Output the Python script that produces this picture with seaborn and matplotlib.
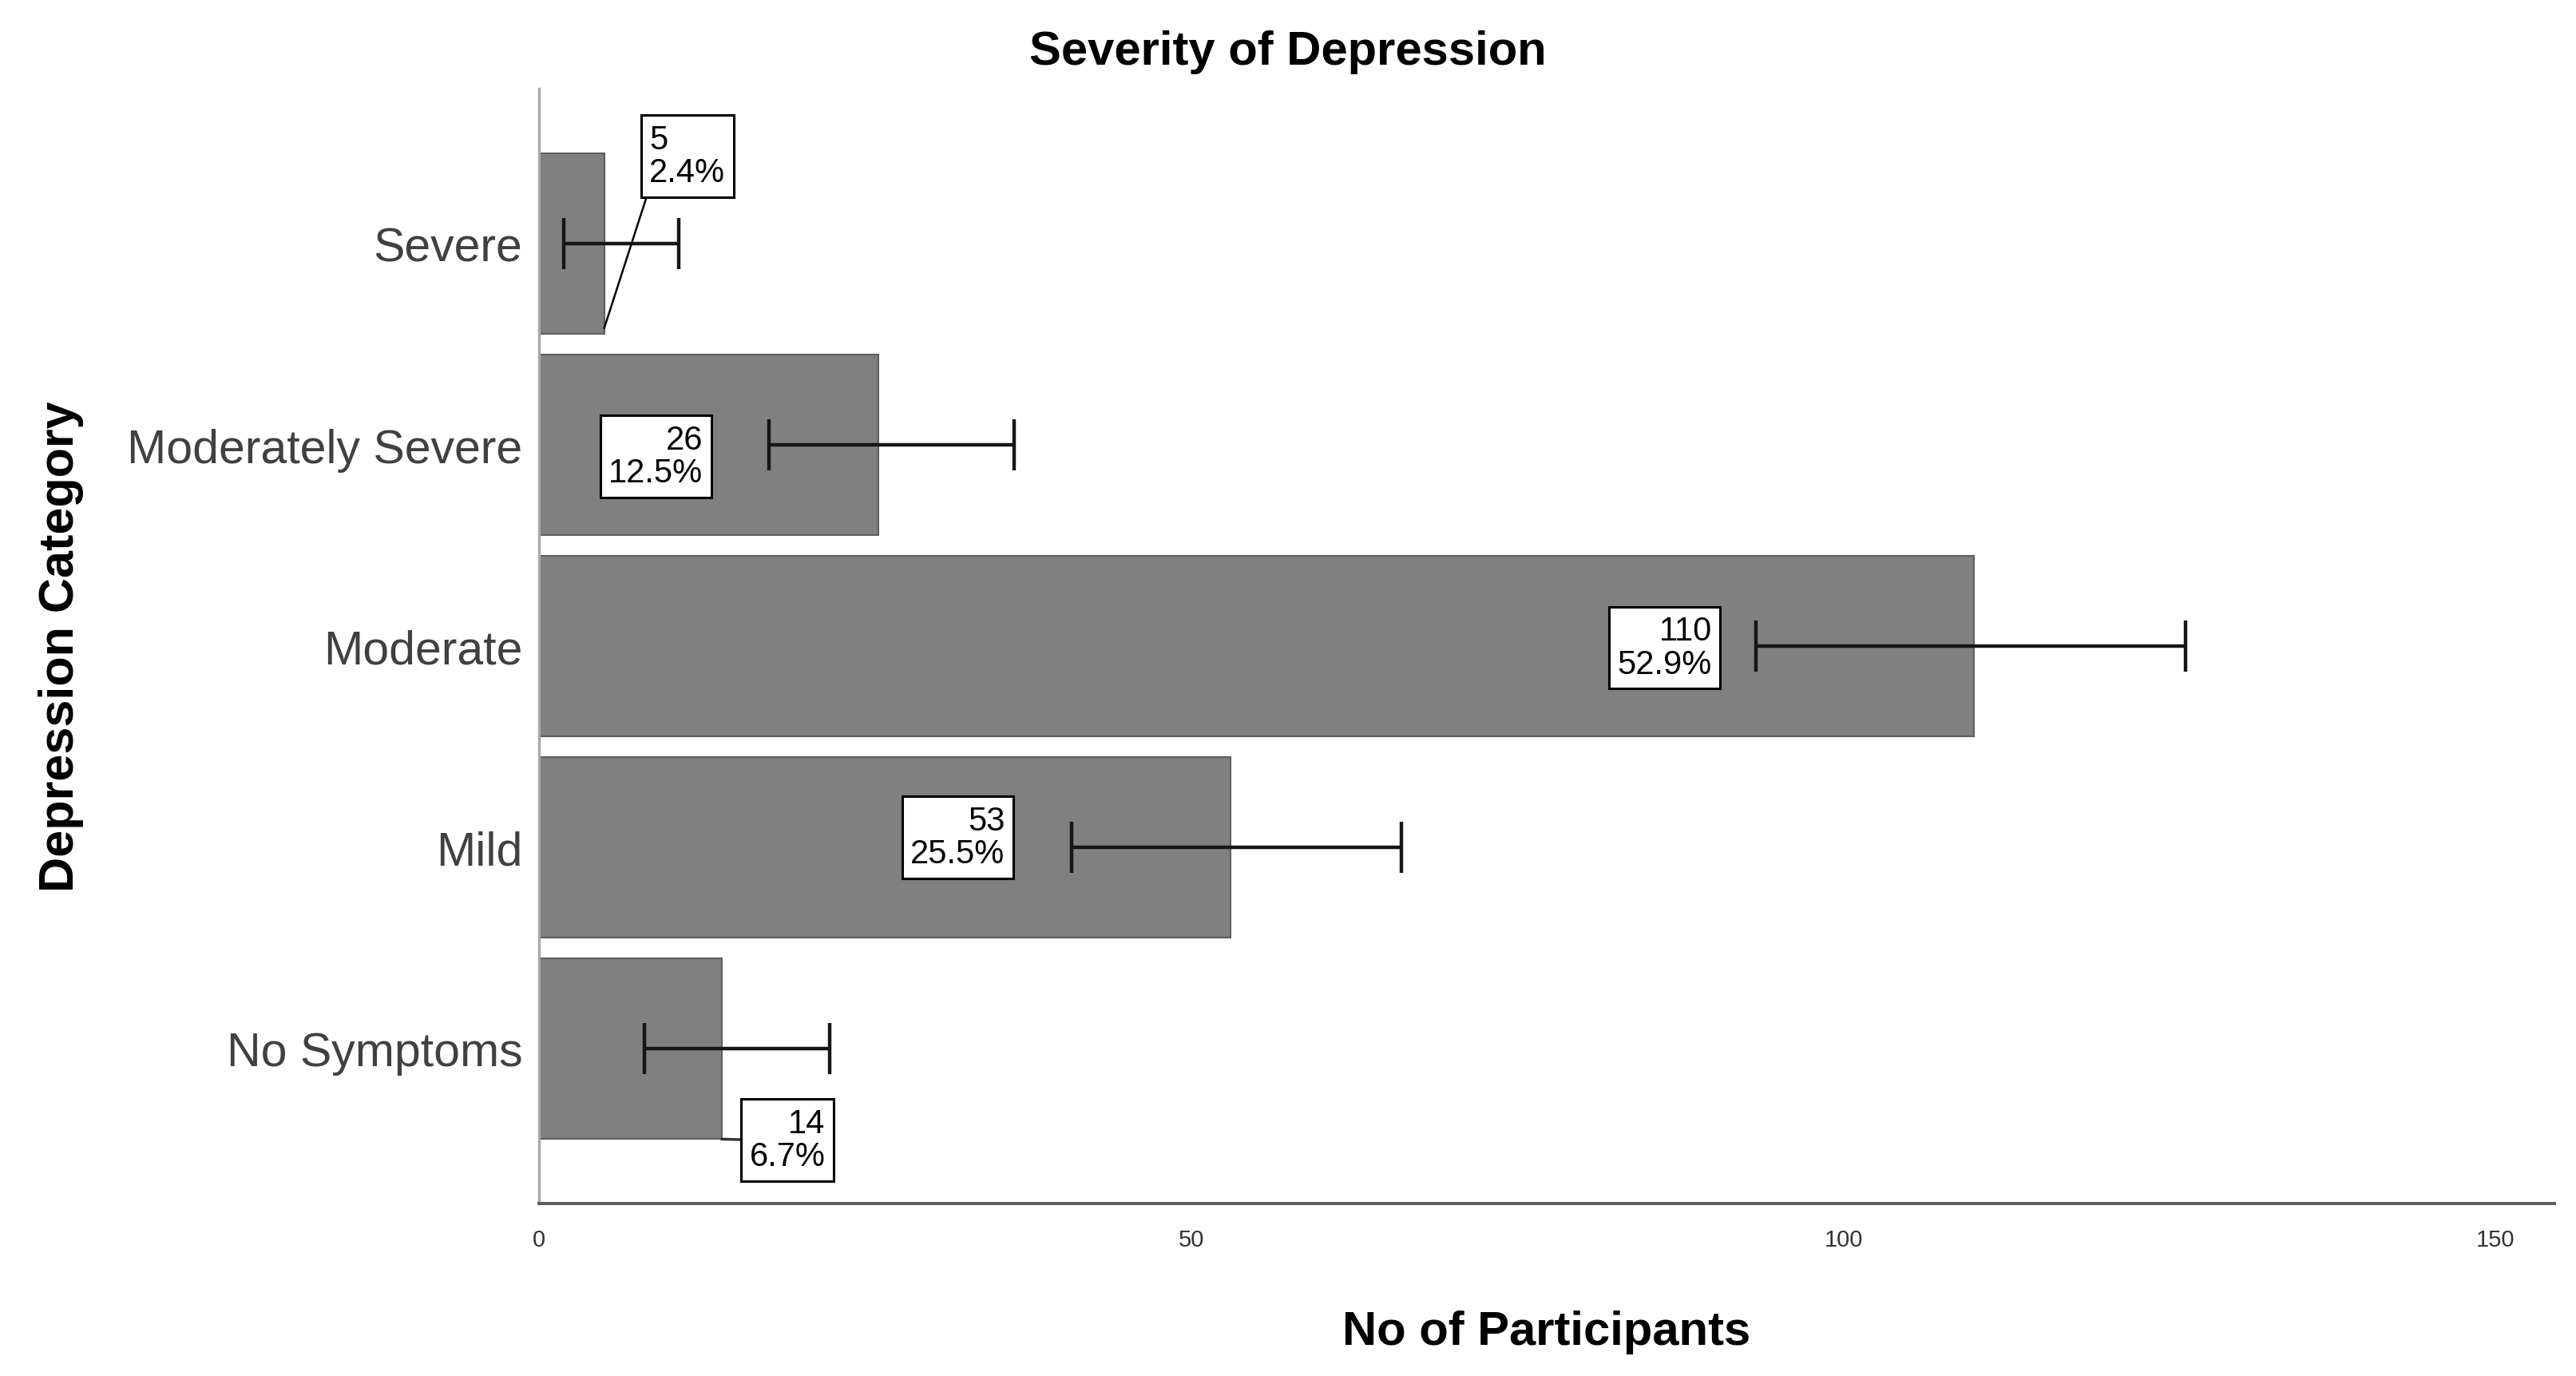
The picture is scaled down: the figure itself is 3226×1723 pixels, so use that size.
import numpy as np
import pandas as pd
import matplotlib
matplotlib.use("Agg")
import matplotlib.pyplot as plt
import seaborn as sns

# ---- data ----
categories = ["Severe", "Moderately Severe", "Moderate", "Mild", "No Symptoms"]
counts = [5, 26, 110, 53, 14]
ci_low = [1.9, 17.6, 93.3, 40.8, 8.1]
ci_high = [10.7, 36.4, 126.2, 66.1, 22.3]
x_ticks = [0, 50, 100, 150]

# ---- label layout (box centres, data units) ----
label_x = [11.36, 8.95, 86.3, 32.1, 19.05]
label_dy = [-0.435, 0.057, 0.009, -0.05, 0.454]
label_align = ["left", "right", "right", "right", "right"]

sns.set_style("white")
plt.rcParams["font.family"] = ["Liberation Sans", "DejaVu Sans"]
plt.rcParams["text.color"] = "black"

df = pd.DataFrame({"category": categories, "count": counts})
total = sum(counts)

fig = plt.figure(figsize=(32.26, 17.24), dpi=100)
ax = fig.add_axes([0.20924, 0.12529, 0.78239, 0.80974])

sns.barplot(data=df, x="count", y="category", order=categories, orient="h",
            color="#808080", saturation=1, width=0.9, errorbar=None,
            edgecolor="#5e5e5e", linewidth=1.5, ax=ax)

pos = np.arange(len(categories))
cnt = np.array(counts, dtype=float)
xerr = [cnt - np.array(ci_low), np.array(ci_high) - cnt]
ax.errorbar(cnt, pos, xerr=xerr, fmt="none", ecolor="#161616",
            elinewidth=3.2, capsize=23, capthick=3.2, zorder=4)

for i, c in enumerate(counts):
    txt = f"{c}\n{100 * c / total:.1f}%"
    kw = dict(ha="center", va="center", fontsize=30, color="black",
              multialignment=label_align[i], linespacing=1.05, zorder=6,
              bbox=dict(boxstyle="square,pad=0.25", fc="white", ec="black", lw=2.2))
    if i == 0:
        ax.annotate(txt, xy=(c, pos[i] + 0.42), xytext=(label_x[i], pos[i] + label_dy[i]),
                    textcoords="data",
                    arrowprops=dict(arrowstyle="-", color="black", lw=1.8,
                                    relpos=(0, 0), shrinkA=0, shrinkB=0), **kw)
    elif i == len(counts) - 1:
        ax.annotate(txt, xy=(c, pos[i] + 0.45), xytext=(label_x[i], pos[i] + label_dy[i]),
                    textcoords="data",
                    arrowprops=dict(arrowstyle="-", color="#333333", lw=2.5,
                                    relpos=(0, 0.5), shrinkA=0, shrinkB=0), **kw)
    else:
        ax.text(label_x[i], pos[i] + label_dy[i], txt, **kw)

ax.set_xlim(0, 154.5)
ax.set_ylim(len(categories) - 1 + 0.77, -0.77)
ax.set_xticks(x_ticks)
ax.set_xticklabels([str(t) for t in x_ticks])

ax.tick_params(axis="y", length=0, pad=15, labelsize=42.5, labelcolor="#404040")
ax.tick_params(axis="x", length=0, pad=22, labelsize=21, labelcolor="#333333")

for s in ["top", "right"]:
    ax.spines[s].set_visible(False)
ax.spines["left"].set_color("#a8a8a8")
ax.spines["left"].set_linewidth(2.4)
ax.spines["bottom"].set_color("#5a5a5a")
ax.spines["bottom"].set_linewidth(2.8)

ax.set_xlabel("No of Participants", fontsize=43, fontweight="bold", color="black")
ax.xaxis.label.set_va("center")
ax.xaxis.set_label_coords(0.5, -0.115)
ax.set_ylabel("Depression Category", fontsize=44, fontweight="bold", color="black")
ax.yaxis.label.set_va("center")
ax.yaxis.set_label_coords(-0.237, 0.5)

fig.suptitle("Severity of Depression", fontsize=43, fontweight="bold", color="black",
             x=0.5, y=0.962, va="center")

fig.savefig("out.png", dpi=100, facecolor="white")
